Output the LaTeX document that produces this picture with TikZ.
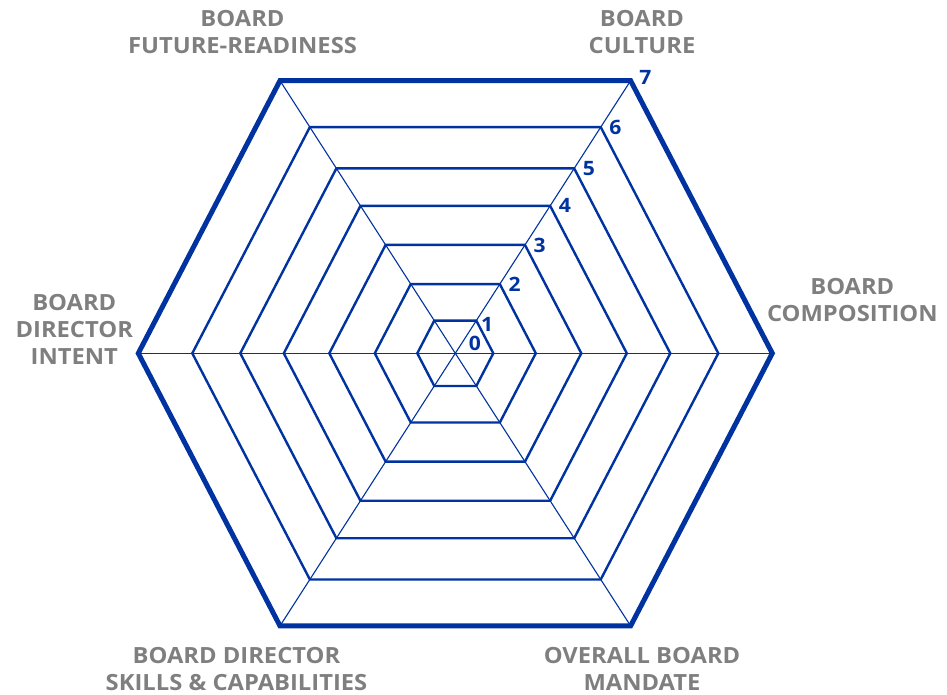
\documentclass[tikz,border=0pt]{standalone}
\usepackage{fontspec}
\setmainfont{Open Sans}
\newfontfamily\chartfont{Open Sans}[BoldFeatures={FakeStretch=1.065}]
\definecolor{chartblue}{RGB}{0,51,160}
\definecolor{labelgray}{RGB}{127,127,127}
\tikzset{
    ringline/.style = {line width=2.4pt, draw=chartblue, line join=miter},
    outerline/.style = {line width=5pt, draw=chartblue, line join=miter},
    spokeline/.style = {line width=1.1pt, draw=chartblue},
    axislabel/.style = {align=center, inner sep=0pt, text=labelgray, font=\chartfont\fontsize{22.3}{27}\selectfont\bfseries},
    tickfont/.style = {inner sep=0pt, text=chartblue, font=\chartfont\fontsize{19.8}{21}\selectfont\bfseries},
    ticklabel/.style = {tickfont, anchor=west, xshift=8.5pt}
}
% one ring of the web, #2 = distance of the side corners
\newcommand{\hexring}[2]{\draw[#1] (#2,0) -- (0.553*#2,0.86*#2) -- (-0.553*#2,0.86*#2) -- (-#2,0) -- (-0.553*#2,-0.86*#2) -- (0.553*#2,-0.86*#2) -- cycle;}

\begin{document}
\begin{tikzpicture}[x=1pt,y=1pt]
\useasboundingbox (-455.3,-341.7) rectangle (491.7,353.3);

\coordinate (O) at (0,0);
\coordinate (vR) at (317,0);
\coordinate (vTR) at (175.3,272.6);
\coordinate (vTL) at (-175.3,272.6);
\coordinate (vL) at (-317,0);
\coordinate (vBL) at (-175.3,-272.6);
\coordinate (vBR) at (175.3,-272.6);

\draw[spokeline] (vL) -- (vR);
\draw[spokeline] (vTL) -- (vBR);
\draw[spokeline] (vTR) -- (vBL);

\hexring{ringline}{38}
\hexring{ringline}{80.5}
\hexring{ringline}{126}
\hexring{ringline}{171.5}
\hexring{ringline}{215}
\hexring{ringline}{263}
\hexring{outerline}{317}

%
\node[tickfont] at (19.7,10.3) (t0) {0};
\node[ticklabel, xshift=-4pt, yshift=-4pt] at (0.553*38,0.86*38) (t1) {1};
\node[ticklabel] at (0.553*80.5,0.86*80.5) (t2) {2};
\node[ticklabel] at (0.553*126,0.86*126) (t3) {3};
\node[ticklabel] at (0.553*171.5,0.86*171.5) (t4) {4};
\node[ticklabel] at (0.553*215,0.86*215) (t5) {5};
\node[ticklabel] at (0.553*263,0.86*263) (t6) {6};
\node[ticklabel, yshift=3.7pt] at (vTR) (t7) {7};

%
\node[axislabel] at (186.7,321) (culture) {BOARD\\CULTURE};
\node[axislabel] at (397,53.4) (composition) {BOARD\\COMPOSITION};
\node[axislabel] at (186.7,-315.9) (mandate) {OVERALL BOARD\\MANDATE};
\node[axislabel] at (-218.8,-315.9) (skills) {BOARD DIRECTOR\\SKILLS \& CAPABILITIES};
\node[axislabel] at (-381,24.1) (intent) {BOARD\\DIRECTOR\\INTENT};
\node[axislabel] at (-212.8,321) (future) {BOARD\\FUTURE-READINESS};

\end{tikzpicture}
\end{document}
